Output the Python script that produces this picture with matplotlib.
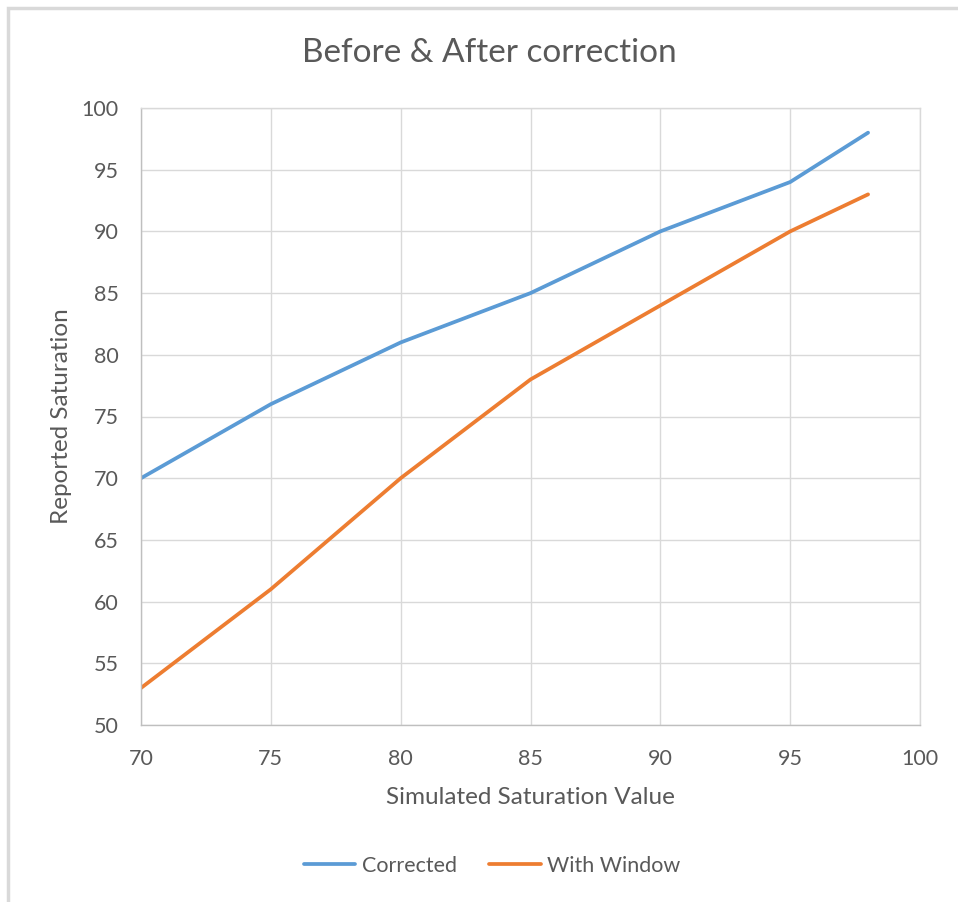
import matplotlib.pyplot as plt
from matplotlib.patches import Rectangle

# data
sim_values = [70, 75, 80, 85, 90, 95, 98]
corrected = [70, 76, 81, 85, 90, 94, 98]
with_window = [53, 61, 70, 78, 84, 90, 93]

x_ticks = [70, 75, 80, 85, 90, 95, 100]
y_ticks = [50, 55, 60, 65, 70, 75, 80, 85, 90, 95, 100]

BLUE = "#5B9BD5"
ORANGE = "#ED7D31"
TEXT = "#595959"
GRID = "#D9D9D9"

plt.rcParams['font.family'] = ['Lato', 'DejaVu Sans']

fig = plt.figure(figsize=(9.58, 9.02), dpi=100)

# light chart-area border
fig.patches.append(Rectangle((8 / 958, -0.1), 1.2, (1 - 8 / 902) + 0.1,
                             transform=fig.transFigure, fill=False,
                             edgecolor="#D9D9D9", linewidth=2.5))

ax = fig.add_axes([141 / 958, 1 - 725 / 902, (920 - 141) / 958, (725 - 108) / 902])

ax.plot(sim_values, corrected, color=BLUE, linewidth=2.7, label="Corrected",
        solid_capstyle="round")
ax.plot(sim_values, with_window, color=ORANGE, linewidth=2.7, label="With Window",
        solid_capstyle="round")

ax.set_xlim(70, 100)
ax.set_ylim(50, 100)
ax.set_xticks(x_ticks)
ax.set_yticks(y_ticks)
ax.grid(True, color=GRID, linewidth=1)
ax.set_axisbelow(True)
for s in ax.spines.values():
    s.set_color(GRID)
    s.set_linewidth(1)
ax.spines["left"].set_color("#BFBFBF")
ax.spines["bottom"].set_color("#BFBFBF")
ax.tick_params(length=0, labelsize=15.5, colors=TEXT)
ax.tick_params(axis="y", pad=16)
ax.tick_params(axis="x", pad=17)

ax.set_xlabel("Simulated Saturation Value", fontsize=17.5, color=TEXT, labelpad=13)
ax.set_ylabel("Reported Saturation", fontsize=17.5, color=TEXT, labelpad=7)

fig.text(489 / 958, 1 - 53 / 902, "Before & After correction", fontsize=24,
         color=TEXT, ha="center", va="center")

fig.legend(loc="center", bbox_to_anchor=(492 / 958, 1 - 866 / 902), ncol=2,
           frameon=False, fontsize=15.5, labelcolor=TEXT, handlelength=2.4,
           handletextpad=0.3, columnspacing=1.5)

fig.savefig("out.png", dpi=100)
